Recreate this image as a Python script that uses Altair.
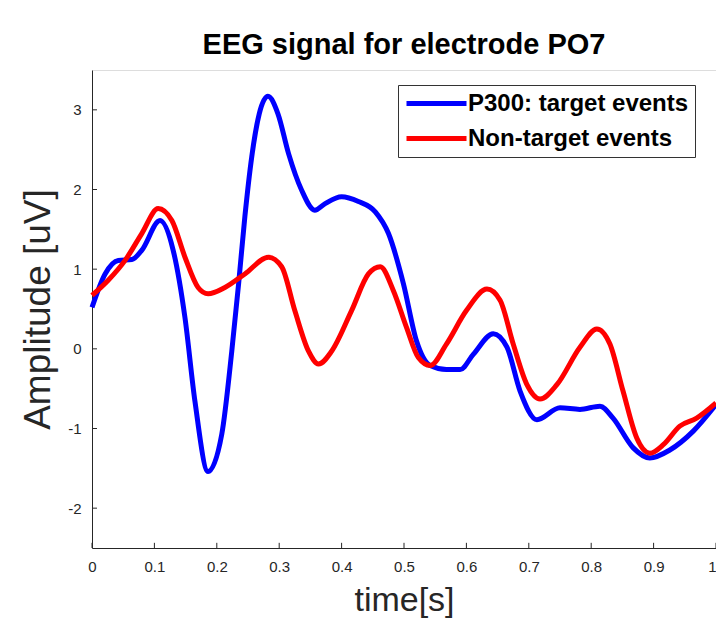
import altair as alt
import pandas as pd

# ---- data ----
t_target = [0, 0.021, 0.042, 0.064, 0.08, 0.109, 0.13, 0.149, 0.165, 0.186, 0.208, 0.224, 0.235,
            0.245, 0.256, 0.268, 0.282, 0.298, 0.315, 0.336, 0.357, 0.373, 0.40, 0.427, 0.454,
            0.475, 0.499, 0.52, 0.542, 0.568, 0.59, 0.611, 0.643, 0.665, 0.686, 0.713, 0.75,
            0.782, 0.814, 0.835, 0.867, 0.894, 0.926, 0.964, 1.0]
v_target = [0.52, 0.94, 1.11, 1.12, 1.24, 1.61, 1.24, 0.39, -0.66, -1.54, -1.07, -0.03, 0.82,
            1.66, 2.41, 2.95, 3.17, 2.95, 2.45, 1.99, 1.74, 1.82, 1.91, 1.85, 1.72,
            1.45, 0.82, 0.10, -0.21, -0.26, -0.26, -0.07, 0.19, 0.02, -0.53, -0.89, -0.74,
            -0.76, -0.72, -0.87, -1.24, -1.37, -1.27, -1.03, -0.70]

t_nontarget = [0, 0.026, 0.053, 0.08, 0.106, 0.128, 0.149, 0.170, 0.186, 0.213, 0.245, 0.283,
               0.304, 0.325, 0.347, 0.363, 0.384, 0.416, 0.443, 0.462, 0.483, 0.504, 0.523,
               0.542, 0.568, 0.60, 0.633, 0.654, 0.675, 0.697, 0.718, 0.745, 0.782, 0.809,
               0.83, 0.851, 0.873, 0.894, 0.916, 0.942, 0.969, 1.0]
v_nontarget = [0.67, 0.86, 1.11, 1.45, 1.76, 1.61, 1.15, 0.77, 0.69, 0.77, 0.94, 1.15,
               1.03, 0.48, -0.03, -0.19, -0.03, 0.48, 0.94, 1.03, 0.73, 0.27, -0.11,
               -0.21, 0.06, 0.48, 0.75, 0.61, 0.06, -0.45, -0.63, -0.45, 0.02, 0.25,
               0.06, -0.53, -1.12, -1.31, -1.20, -0.97, -0.87, -0.68]

series_names = ["P300: target events", "Non-target events"]
series_colors = ["#0000ff", "#ff0000"]
x_ticks = [0, 0.1, 0.2, 0.3, 0.4, 0.5, 0.6, 0.7, 0.8, 0.9, 1]
y_ticks = [-2, -1, 0, 1, 2, 3]
x_domain = [0, 1]
y_domain = [-2.5, 3.5]

FONT = "Liberation Sans"
AX = "#262626"
LABEL_EXPR = "datum.value < 0 ? '-' + abs(datum.value) : '' + datum.value"

df_t = pd.DataFrame({"time": t_target, "amp": v_target, "series": series_names[0]})
df_n = pd.DataFrame({"time": t_nontarget, "amp": v_nontarget, "series": series_names[1]})

xs = alt.Scale(domain=x_domain, nice=False, zero=False)
ys = alt.Scale(domain=y_domain, nice=False, zero=False)
cs = alt.Scale(domain=series_names, range=series_colors)

x_axis = alt.Axis(values=x_ticks, labelExpr=LABEL_EXPR, title="time[s]", ticks=False, grid=False,
                  labelFlush=False, labelOverlap=False,
                  labelAlign={"condition": {"test": "datum.value == 1", "value": "right"},
                              "value": "center"},
                  labelFont=FONT, labelFontSize=15, labelColor=AX, labelPadding=11,
                  titleFont=FONT, titleFontSize=34, titleFontWeight="normal", titleColor=AX,
                  titlePadding=9, domainColor=AX, domainWidth=1)
y_axis = alt.Axis(values=y_ticks, labelExpr=LABEL_EXPR, title="Amplitude [uV]", ticks=False, grid=False,
                  labelFlush=False, labelOverlap=False,
                  labelFont=FONT, labelFontSize=15, labelColor=AX, labelPadding=11,
                  titleFont=FONT, titleFontSize=37, titleFontWeight="normal", titleColor=AX,
                  titlePadding=10, domainColor=AX, domainWidth=1)

legend = alt.Legend(title=None, orient="none", legendX=306, legendY=15,
                    symbolType="M-1,0H5", symbolSize=400, symbolStrokeWidth=5,
                    labelFont=FONT, labelFontSize=24, labelFontWeight="bold", labelColor="black",
                    labelOffset=39, labelLimit=500, strokeColor="#333333", fillColor="white",
                    padding=6, rowPadding=10)


def line_layer(df):
    return alt.Chart(df).mark_line(strokeWidth=5, interpolate="monotone").encode(
        x=alt.X("time:Q", scale=xs, axis=x_axis),
        y=alt.Y("amp:Q", scale=ys, axis=y_axis),
        color=alt.Color("series:N", scale=cs, legend=legend),
    )


xt = pd.DataFrame({"time": x_ticks})
xt["y0"] = y_domain[0]
xt["y1"] = y_domain[0] + 0.065
yt = pd.DataFrame({"amp": y_ticks})
yt["x0"] = x_domain[0]
yt["x1"] = x_domain[0] + 0.008

x_tick_layer = alt.Chart(xt).mark_rule(color=AX, strokeWidth=1).encode(
    x=alt.X("time:Q", scale=xs, axis=x_axis),
    y=alt.Y("y0:Q", scale=ys, axis=y_axis),
    y2="y1:Q",
)
y_tick_layer = alt.Chart(yt).mark_rule(color=AX, strokeWidth=1).encode(
    y=alt.Y("amp:Q", scale=ys, axis=y_axis),
    x=alt.X("x0:Q", scale=xs, axis=x_axis),
    x2="x1:Q",
)

chart = alt.layer(
    x_tick_layer, y_tick_layer, line_layer(df_t), line_layer(df_n)
).properties(
    width=624, height=478,
    title=alt.TitleParams("EEG signal for electrode PO7", font=FONT, fontSize=29,
                          fontWeight="bold", color="black", offset=10, anchor="middle"),
    autosize="none",
    padding={"left": 84, "top": 62, "right": 0, "bottom": 70},
).configure_view(stroke=None).configure(background="white")

chart.save("out.html", embed_options={"renderer": "svg", "actions": False})
